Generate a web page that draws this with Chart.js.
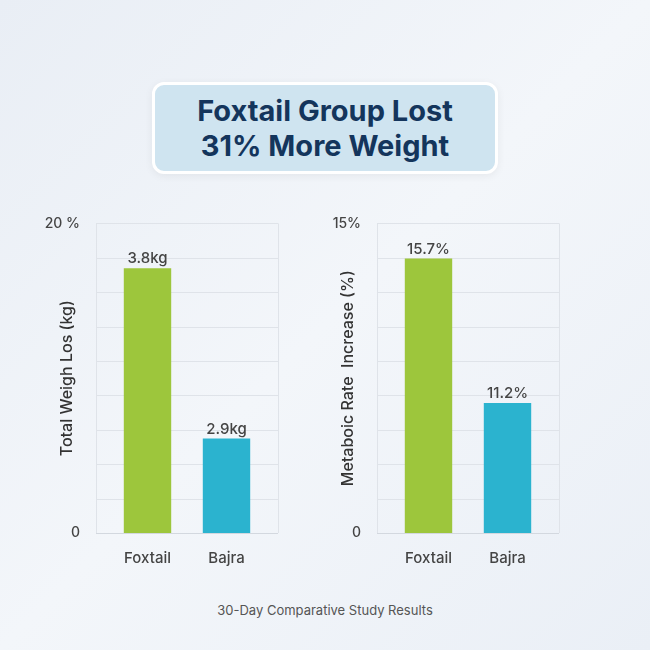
<!DOCTYPE html>
<html><head><meta charset="utf-8">
<script src="https://cdn.jsdelivr.net/npm/chart.js@4"></script>
<style>
body{margin:0;width:650px;height:650px;overflow:hidden;background:linear-gradient(135deg,#e9eef5,#f3f6fa 50%,#eaeff6);font-family:Inter,"Noto Sans",sans-serif;position:relative}
#title{position:absolute;left:152px;top:82px;width:340px;height:86px;background:#cfe4f0;border:3px solid #fff;border-radius:12px;box-shadow:0 2px 8px rgba(0,0,0,0.06);color:#14355c;font-weight:700;font-size:29px;line-height:35px;text-align:center;display:flex;align-items:center;justify-content:center}
.c{position:absolute;top:195px;width:250px;height:380px}
#foot{position:absolute;top:602px;width:650px;text-align:center;font-size:13px;color:#555}
</style></head><body>
<div id="title">Foxtail Group Lost<br>31% More Weight</div>
<div class="c" style="left:40px"><canvas id="c1"></canvas></div>
<div class="c" style="left:321px"><canvas id="c2"></canvas></div>
<div id="foot">30-Day Comparative Study Results</div>
<script>
const categories=["Foxtail","Bajra"];
const weightHeights=[17.1,6.1];
const weightLabels=["3.8kg","2.9kg"];
const metabHeights=[13.3,6.3];
const metabLabels=["15.7%","11.2%"];
const colors=["#9dc63c","#2bb3cf"];
const gridPlugin={id:'gl',beforeDatasetsDraw(ch){const ctx=ch.ctx,a=ch.chartArea,y=ch.scales.y;ctx.save();ctx.strokeStyle='#dfe3e9';ctx.lineWidth=1;
 y.ticks.forEach(t=>{const py=Math.round(y.getPixelForValue(t.value))+0.5;ctx.beginPath();ctx.moveTo(a.left-12,py);ctx.lineTo(a.right+12,py);ctx.stroke();});
 ctx.beginPath();ctx.moveTo(a.left-11.5,a.top);ctx.lineTo(a.left-11.5,a.bottom);ctx.moveTo(a.right+12.5,a.top);ctx.lineTo(a.right+12.5,a.bottom);ctx.stroke();
 ctx.strokeStyle='#d3d8df';const b=Math.round(a.bottom)+0.5;ctx.beginPath();ctx.moveTo(a.left-12,b);ctx.lineTo(a.right+12,b);ctx.stroke();ctx.restore();}};
const labelPlugin={id:'vl',afterDatasetsDraw(ch){const ctx=ch.ctx;const m=ch.getDatasetMeta(0);const labs=ch.options.plugins.vl.labels;ctx.save();ctx.font='500 15px Inter, sans-serif';ctx.fillStyle='#444';ctx.textAlign='center';ctx.textBaseline='bottom';m.data.forEach((b,i)=>ctx.fillText(labs[i],b.x,b.y-2));ctx.restore();}};
function make(id,vals,labs,max,topLabel,title){
 new Chart(document.getElementById(id),{type:'bar',data:{labels:categories,datasets:[{data:vals,backgroundColor:colors,barPercentage:0.6,categoryPercentage:1}]},
 plugins:[gridPlugin,labelPlugin],
 options:{responsive:true,maintainAspectRatio:false,animation:false,layout:{padding:{top:14,right:24}},
 plugins:{legend:{display:false},tooltip:{enabled:false},vl:{labels:labs}},
 scales:{x:{grid:{display:false},border:{display:false},ticks:{color:'#444',font:{size:15,weight:'500',family:'Inter'},padding:8},afterFit(s){s.height=42;}},
 y:{min:0,max:max,afterBuildTicks(s){s.ticks=[];for(let i=0;i<=9;i++)s.ticks.push({value:max*i/9});},
 grid:{display:false},border:{display:false},
 ticks:{color:'#444',font:{size:14,weight:'500',family:'Inter'},padding:20,callback:(v,i)=>i===0?'0':(i===9?topLabel:'')},
 title:{display:true,text:title,color:'#333',font:{size:16,weight:'500',family:'Inter'},padding:{top:18,bottom:0}},afterFit(s){s.width=68;}}}}});
}
make('c1',weightHeights,weightLabels,20,'20 %','Total Weigh Los (kg)');
make('c2',metabHeights,metabLabels,15,'15%','Metaboic Rate  Increase (%)');
</script></body></html>
